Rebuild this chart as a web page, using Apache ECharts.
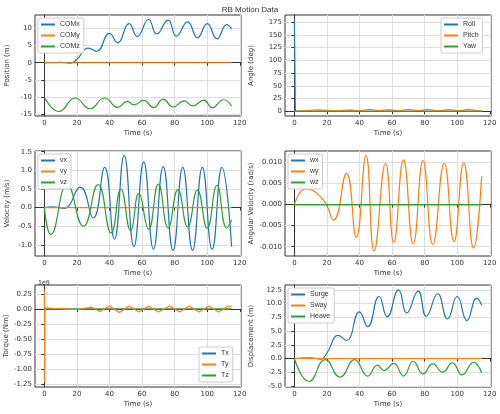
<!DOCTYPE html><html><head><meta charset="utf-8">
<script src="https://cdn.jsdelivr.net/npm/echarts@6/dist/echarts.min.js"></script>
<style>html,body{margin:0;padding:0;background:#fff}#c{width:500px;height:414px}</style></head><body><div id="c"></div>
<script>
// time points with values (extrema), drawn as smooth lines
const comx=[[0,0],[10,0.1],[16,-0.1],[20,1],[27,4.2],[32,3.3],[40,8.5],[45,5.8],[52,11.3],[57,7.6],[64,12.5],[69,8.3],[76,12.3],[81,7.7],[88,11.8],[94,7.2],[100,11.3],[106,6.9],[112,11],[115,9.7]];
const comy=[[0,0],[115,0]];
const comz=[[0,-10],[9,-14.1],[19,-10.2],[28,-13.3],[37,-10.2],[45,-12.9],[51,-11.2],[55,-12.2],[61,-10.9],[67,-13],[73,-10.5],[79,-12.8],[86,-11],[91,-12.5],[98,-10.8],[103,-13],[110,-10.7],[115,-12.5]];
const roll=[[0,180],[0.5,180],[0.6,0],[115,0]];
const pitch=[[0,0],[15,3],[25,1],[35,3],[40,1],[46,4],[52,1],[58,3.5],[64,1],[70,4],[76,1],[82,4],[88,1],[95,3.5],[101,1],[107,4],[113,1],[115,1]];
const yaw=[[0,0],[115,0]];
const vx=[[0,0],[5,0.02],[12,-0.02],[22,0.55],[30,-0.28],[37,1.08],[43,-0.85],[49,1.4],[55,-1.05],[61,1.23],[67,-1.12],[73,1.1],[79,-1.15],[85,1.08],[91,-1.15],[97,1.08],[103,-1.12],[109,1.08],[115,-1.05]];
const vy=[[0,0],[115,0]];
const vz=[[0,0],[4,-0.72],[14,0.62],[24,-0.5],[33,0.62],[41,-0.68],[47,0.5],[53,-0.62],[58,0.38],[64,-0.58],[70,0.63],[76,-0.55],[82,0.48],[88,-0.52],[94,0.47],[100,-0.55],[106,0.6],[112,-0.55],[115,-0.33]];
const wx=[[0,0],[115,0]];
const wy=[[0,0],[7,0.0037],[18,0.001],[24,-0.0037],[32,0.0074],[38,-0.0078],[44,0.0116],[49,-0.011],[56,0.0098],[61,-0.009],[67,0.0106],[73,-0.0093],[79,0.0104],[85,-0.0095],[92,0.0098],[98,-0.0088],[104,0.0099],[110,-0.0103],[115,0.0067]];
const wz=[[0,0],[115,0]];
const tx=[[0,0],[115,0]];
const ty=[[0,0.32],[0.2,-1.22],[0.4,0.02],[5,0.01],[20,-0.01],[29,0.03],[34,-0.04],[40,0.05],[46,-0.06],[52,0.05],[58,-0.05],[64,0.05],[70,-0.05],[77,0.05],[83,-0.05],[89,0.05],[95,-0.05],[101,0.05],[107,-0.05],[113,0.05],[115,0.04]];
const tz=[[0,0],[115,0]];
const surge=comx;
const sway=[[0,0],[115,0]];
const heave=[[0,0],[9,-4.2],[19,-0.2],[28,-3.4],[37,-0.2],[45,-3.2],[51,-1.2],[55,-2.2],[61,-0.9],[67,-3.2],[73,-0.5],[79,-2.8],[85,-1],[91,-2.5],[97,-0.8],[103,-3],[110,-0.7],[115,-2.6]];
const xTicks=[0,20,40,60,80,100,120];

const C=['#1f77b4','#ff7f0e','#2ca02c'];
const panels=[
 {left:35,top:15,h:101,name:'Position (m)',ymin:-15.4,ymax:13.8,yt:[-15,-10,-5,0,5,10],names:['COMx','COMy','COMz'],data:[comx,comy,comz],leg:'tl'},
 {left:285,top:15,h:101,name:'Angle (deg)',ymin:-9,ymax:189,yt:[0,25,50,75,100,125,150,175],names:['Roll','Pitch','Yaw'],data:[roll,pitch,yaw],leg:'tr',sharp:true},
 {left:35,top:151,h:105,name:'Velocity (m/s)',ymin:-1.3,ymax:1.52,yt:[-1,-0.5,0,0.5,1,1.5],names:['vx','vy','vz'],data:[vx,vy,vz],leg:'tl',fmt:v=>v.toFixed(1)},
 {left:285,top:151,h:105,name:'Angular Velocity (rad/s)',ymin:-0.0122,ymax:0.0127,yt:[-0.01,-0.005,0,0.005,0.01],names:['wx','wy','wz'],data:[wx,wy,wz],leg:'tl',fmt:v=>v.toFixed(3)},
 {left:35,top:285,h:102,name:'Torque (Nm)',ymin:-1.3,ymax:0.4,yt:[-1.25,-1,-0.75,-0.5,-0.25,0,0.25],names:['Tx','Ty','Tz'],data:[tx,ty,tz],leg:'br',fmt:v=>v.toFixed(2),sharp:true},
 {left:285,top:285,h:102,name:'Displacement (m)',ymin:-5.2,ymax:13.4,yt:[-5,-2.5,0,2.5,5,7.5,10,12.5],names:['Surge','Sway','Heave'],data:[surge,sway,heave],leg:'tl',fmt:v=>v.toFixed(1)}
];
const grid=[],xAxis=[],yAxis=[],series=[],legend=[];
const ax={color:'#333',fontSize:7,fontFamily:'DejaVu Sans'};
panels.forEach((p,i)=>{
 grid.push({left:p.left,top:p.top,width:206,height:p.h,show:true,borderColor:'#333',borderWidth:1});
 xAxis.push({gridIndex:i,type:'value',min:-5.75,max:120.75,name:'Time (s)',nameLocation:'middle',nameGap:14,nameTextStyle:ax,
  axisLine:{lineStyle:{color:'#333'}},axisTick:{customValues:xTicks,length:3,lineStyle:{color:'#333'}},
  axisLabel:Object.assign({customValues:xTicks,margin:4},ax),splitLine:{show:true,lineStyle:{color:'#ddd'}}});
 yAxis.push({gridIndex:i,type:'value',min:p.ymin,max:p.ymax,name:p.name,nameLocation:'middle',nameGap:i%2?30:24,nameTextStyle:ax,
  axisLine:{show:true,lineStyle:{color:'#333'}},axisTick:{show:true,customValues:p.yt,length:3,lineStyle:{color:'#333'}},
  axisLabel:Object.assign({customValues:p.yt,margin:3,formatter:p.fmt||(v=>String(v))},ax),splitLine:{show:true,lineStyle:{color:'#ddd'}}});
 p.names.forEach((n,k)=>series.push({type:'line',name:n,xAxisIndex:i,yAxisIndex:i,data:p.data[k],smooth:p.sharp?false:0.5,showSymbol:false,lineStyle:{width:1.2,color:C[k]},itemStyle:{color:C[k]},z:k==1&&i==4?5:3}));
 const lg={data:p.names,orient:'vertical',icon:'rect',itemWidth:14,itemHeight:2,itemGap:4,textStyle:{fontSize:7,color:'#333'},
  backgroundColor:'#fff',borderColor:'#ccc',borderWidth:1,borderRadius:2,padding:[3,4,3,3]};
 if(p.leg=='tl'){lg.left=p.left+3;lg.top=p.top+3;}
 if(p.leg=='tr'){lg.left=p.left+206-50;lg.top=p.top+3;}
 if(p.leg=='br'){lg.left=p.left+206-42;lg.top=p.top+p.h-40;}
 legend.push(lg);
});
const chart=echarts.init(document.getElementById('c'));
chart.setOption({animation:false,
 title:[{text:'RB Motion Data',left:'center',top:1,textStyle:{fontSize:8,fontWeight:'normal',color:'#333'}},
        {text:'1e9',left:33,top:275,textStyle:{fontSize:7,fontWeight:'normal',color:'#333'}}],
 grid,xAxis,yAxis,series,legend});
</script></body></html>
